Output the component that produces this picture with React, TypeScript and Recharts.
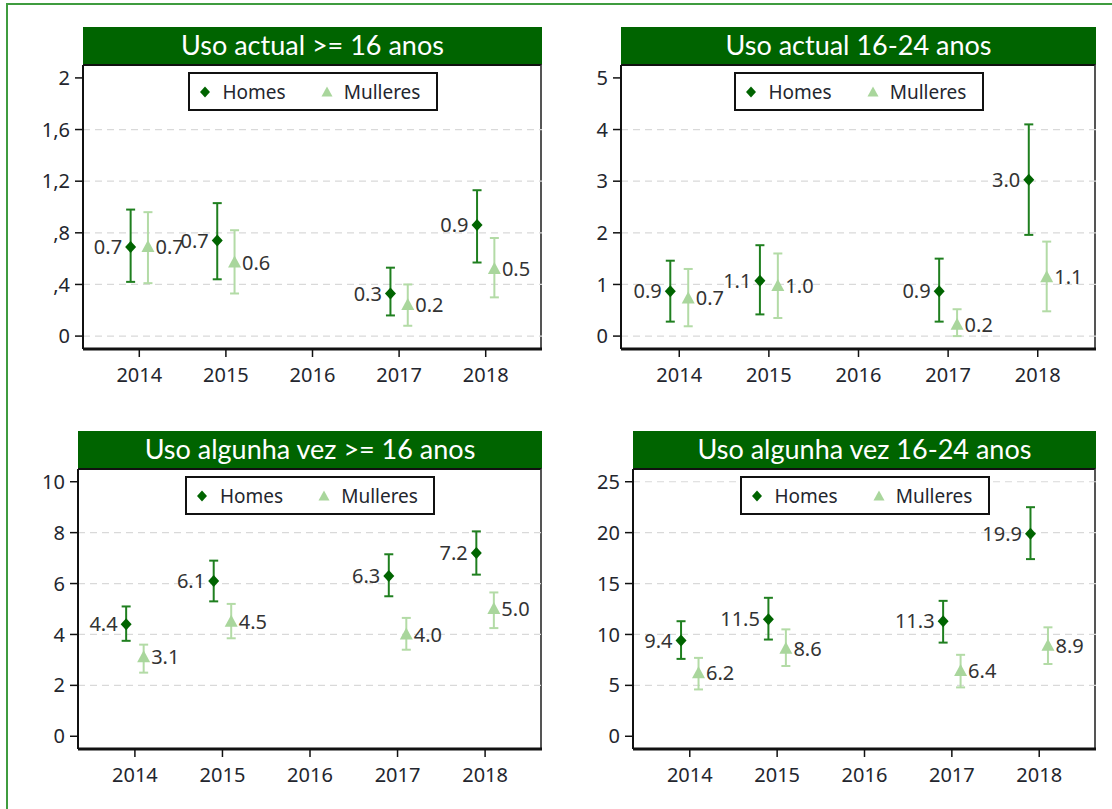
import React from "react";
import {
  ScatterChart,
  Scatter,
  XAxis,
  YAxis,
  CartesianGrid,
  ErrorBar,
  LabelList,
} from "recharts";

// ---------- data ----------
const years = [2014, 2015, 2017, 2018];
const xTicks = [2014, 2015, 2016, 2017, 2018];

// Panel 1: Uso actual >= 16 anos
const p1Title = "Uso actual >= 16 anos";
const p1Ticks = [0, 0.4, 0.8, 1.2, 1.6, 2];
const p1TickLabels = ["0", ",4", ",8", "1,2", "1,6", "2"];
const p1Grid = [0, 0.4, 0.8, 1.2, 1.6];
const p1HomesVal = [0.69, 0.74, 0.33, 0.86];
const p1HomesLo = [0.42, 0.44, 0.16, 0.57];
const p1HomesHi = [0.98, 1.03, 0.53, 1.13];
const p1MullVal = [0.69, 0.57, 0.24, 0.52];
const p1MullLo = [0.41, 0.33, 0.08, 0.3];
const p1MullHi = [0.96, 0.82, 0.4, 0.76];

// Panel 2: Uso actual 16-24 anos
const p2Title = "Uso actual 16-24 anos";
const p2Ticks = [0, 1, 2, 3, 4, 5];
const p2TickLabels = ["0", "1", "2", "3", "4", "5"];
const p2Grid = [0, 1, 2, 3, 4];
const p2HomesVal = [0.87, 1.07, 0.87, 3.03];
const p2HomesLo = [0.28, 0.42, 0.28, 1.96];
const p2HomesHi = [1.46, 1.76, 1.5, 4.1];
const p2MullVal = [0.73, 0.97, 0.22, 1.14];
const p2MullLo = [0.19, 0.35, 0.0, 0.48];
const p2MullHi = [1.3, 1.6, 0.52, 1.83];

// Panel 3: Uso algunha vez >= 16 anos
const p3Title = "Uso algunha vez >= 16 anos";
const p3Ticks = [0, 2, 4, 6, 8, 10];
const p3TickLabels = ["0", "2", "4", "6", "8", "10"];
const p3Grid = [2, 4, 6, 8];
const p3HomesVal = [4.4, 6.1, 6.3, 7.2];
const p3HomesLo = [3.75, 5.3, 5.5, 6.35];
const p3HomesHi = [5.1, 6.9, 7.15, 8.05];
const p3MullVal = [3.1, 4.5, 4.0, 5.0];
const p3MullLo = [2.5, 3.85, 3.4, 4.25];
const p3MullHi = [3.6, 5.2, 4.65, 5.65];

// Panel 4: Uso algunha vez 16-24 anos
const p4Title = "Uso algunha vez 16-24 anos";
const p4Ticks = [0, 5, 10, 15, 20, 25];
const p4TickLabels = ["0", "5", "10", "15", "20", "25"];
const p4Grid = [5, 10, 15, 20, 25];
const p4HomesVal = [9.4, 11.5, 11.3, 19.9];
const p4HomesLo = [7.6, 9.5, 9.2, 17.4];
const p4HomesHi = [11.3, 13.6, 13.3, 22.5];
const p4MullVal = [6.2, 8.6, 6.4, 8.9];
const p4MullLo = [4.6, 6.9, 4.8, 7.1];
const p4MullHi = [7.7, 10.5, 8.0, 10.7];

const seriesNames = ["Homes", "Mulleres"];

// ---------- style ----------
const DARK = "#006400";
const DARK_BAR = "#1f7f1f";
const LIGHT = "#a9d69c";
const LIGHT_BAR = "#b3dba6";
const FONT = "'Noto Sans', sans-serif";
const TITLE_FONT = "Lato, 'Noto Sans', sans-serif";
const TEXT = "#23262e";
const DODGE = 0.1;

function buildRows(vals: number[], lo: number[], hi: number[], shift: number) {
  return years.map((y, i) => ({
    x: y + shift,
    v: vals[i],
    err: [vals[i] - lo[i], hi[i] - vals[i]],
  }));
}

const Diamond = (props: any) => {
  const { cx, cy } = props;
  if (cx == null || cy == null) return null;
  return (
    <path
      d={`M${cx},${cy - 6}L${cx + 5.5},${cy}L${cx},${cy + 6}L${cx - 5.5},${cy}Z`}
      fill={DARK}
    />
  );
};

const Triangle = (props: any) => {
  const { cx, cy } = props;
  if (cx == null || cy == null) return null;
  return (
    <path
      d={`M${cx},${cy - 7}L${cx + 6.5},${cy + 5}L${cx - 6.5},${cy + 5}Z`}
      fill={LIGHT}
    />
  );
};

type PanelProps = {
  title: string;
  ticks: number[];
  tickLabels: string[];
  grid: number[];
  hv: number[];
  hl: number[];
  hh: number[];
  mv: number[];
  ml: number[];
  mh: number[];
  plotLeft: number;
  plotRight: number;
  titleTop: number;
  plotTop: number;
  plotBottom: number;
};

const Y_AXIS_W = 75;
const X_AXIS_H = 50;

function Panel(p: PanelProps) {
  const plotW = p.plotRight - p.plotLeft;
  const plotH = p.plotBottom - p.plotTop;
  const tMin = p.ticks[0];
  const tMax = p.ticks[p.ticks.length - 1];
  const pad = (tMax - tMin) * 0.05;
  const homes = buildRows(p.hv, p.hl, p.hh, -DODGE);
  const mull = buildRows(p.mv, p.ml, p.mh, DODGE);
  const fmt = (v: any) => Number(v).toFixed(1);
  return (
    <>
      <div
        style={{
          position: "absolute",
          left: p.plotLeft,
          top: p.titleTop,
          width: plotW,
          height: p.plotTop - p.titleTop,
          background: DARK,
          color: "#fff",
          fontFamily: TITLE_FONT,
          fontSize: 27,
          lineHeight: `${p.plotTop - p.titleTop - 3}px`,
          textAlign: "center",
          whiteSpace: "nowrap",
        }}
      >
        {p.title}
      </div>
      <div
        style={{
          position: "absolute",
          left: p.plotLeft,
          top: p.plotTop - 1,
          width: plotW,
          height: plotH,
          borderTop: "2px solid #111",
          borderRight: "2px solid #555",
          boxSizing: "border-box",
        }}
      />
      <div
        style={{
          position: "absolute",
          left: p.plotLeft - Y_AXIS_W,
          top: p.plotTop,
        }}
      >
        <ScatterChart
          width={plotW + Y_AXIS_W + 5}
          height={plotH + X_AXIS_H}
          margin={{ top: 0, right: 5, bottom: 0, left: 0 }}
        >
          <CartesianGrid
            horizontal
            vertical={false}
            horizontalValues={p.grid}
            stroke="#d9d9d9"
            strokeDasharray="7 5"
            strokeWidth={1.2}
          />
          <XAxis
            type="number"
            dataKey="x"
            domain={[2013.35, 2018.65]}
            ticks={xTicks}
            allowDataOverflow
            height={X_AXIS_H}
            axisLine={{ stroke: "#111", strokeWidth: 3 }}
            tickLine={{ stroke: "#111", strokeWidth: 1.5 }}
            tickSize={8}
            tickMargin={11}
            tick={{ fill: TEXT, fontSize: 20, fontFamily: FONT }}
            interval={0}
          />
          <YAxis
            type="number"
            dataKey="v"
            domain={[tMin - pad, tMax + pad]}
            ticks={p.ticks}
            allowDataOverflow
            width={Y_AXIS_W}
            axisLine={{ stroke: "#111", strokeWidth: 2 }}
            tickLine={{ stroke: "#111", strokeWidth: 1.5 }}
            tickSize={8}
            tickMargin={5}
            tick={{ fill: TEXT, fontSize: 20, fontFamily: FONT }}
            tickFormatter={(v: any) => {
              const i = p.ticks.indexOf(Number(v));
              return i >= 0 ? p.tickLabels[i] : String(v);
            }}
            interval={0}
          />
          <Scatter
            name={seriesNames[0]}
            data={homes}
            shape={Diamond}
            isAnimationActive={false}
          >
            <ErrorBar
              dataKey="err"
              direction="y"
              width={4.5}
              stroke={DARK_BAR}
              strokeWidth={2}
            />
            <LabelList
              dataKey="v"
              position="left"
              offset={4}
              formatter={fmt}
              fill="#333"
              fontSize={20}
              fontFamily={FONT}
            />
          </Scatter>
          <Scatter
            name={seriesNames[1]}
            data={mull}
            shape={Triangle}
            isAnimationActive={false}
          >
            <ErrorBar
              dataKey="err"
              direction="y"
              width={4.5}
              stroke={LIGHT_BAR}
              strokeWidth={2}
            />
            <LabelList
              dataKey="v"
              position="right"
              offset={3}
              formatter={fmt}
              fill="#333"
              fontSize={20}
              fontFamily={FONT}
            />
          </Scatter>
        </ScatterChart>
      </div>
      <div
        style={{
          position: "absolute",
          left: p.plotLeft + plotW / 2 - 125,
          top: p.plotTop + 7,
          width: 250,
          height: 39,
          border: "2px solid #111",
          boxSizing: "border-box",
          background: "#fff",
          display: "flex",
          alignItems: "center",
          fontFamily: FONT,
          fontSize: 19,
          color: TEXT,
        }}
      >
        <svg width={14} height={14} style={{ marginLeft: 8 }}>
          <path d="M7,1.5L12,7L7,12.5L2,7Z" fill={DARK} />
        </svg>
        <span style={{ marginLeft: 11 }}>{seriesNames[0]}</span>
        <svg width={14} height={14} style={{ marginLeft: 34 }}>
          <path d="M7,1.5L12.5,11.5L1.5,11.5Z" fill={LIGHT} />
        </svg>
        <span style={{ marginLeft: 10 }}>{seriesNames[1]}</span>
      </div>
    </>
  );
}

export default function App() {
  return (
    <div
      style={{
        position: "absolute",
        left: 0,
        top: 0,
        width: 1112,
        height: 809,
        overflow: "hidden",
        background: "#fff",
      }}
    >
      <div
        style={{
          position: "absolute",
          left: 6,
          top: 3,
          width: 1120,
          height: 830,
          borderLeft: "2px solid #3f9c3f",
          borderTop: "2px solid #3f9c3f",
        }}
      />
      <Panel
        title={p1Title}
        ticks={p1Ticks}
        tickLabels={p1TickLabels}
        grid={p1Grid}
        hv={p1HomesVal}
        hl={p1HomesLo}
        hh={p1HomesHi}
        mv={p1MullVal}
        ml={p1MullLo}
        mh={p1MullHi}
        plotLeft={83}
        plotRight={542}
        titleTop={27}
        plotTop={65}
        plotBottom={349}
      />
      <Panel
        title={p2Title}
        ticks={p2Ticks}
        tickLabels={p2TickLabels}
        grid={p2Grid}
        hv={p2HomesVal}
        hl={p2HomesLo}
        hh={p2HomesHi}
        mv={p2MullVal}
        ml={p2MullLo}
        mh={p2MullHi}
        plotLeft={621}
        plotRight={1096}
        titleTop={27}
        plotTop={65}
        plotBottom={349}
      />
      <Panel
        title={p3Title}
        ticks={p3Ticks}
        tickLabels={p3TickLabels}
        grid={p3Grid}
        hv={p3HomesVal}
        hl={p3HomesLo}
        hh={p3HomesHi}
        mv={p3MullVal}
        ml={p3MullLo}
        mh={p3MullHi}
        plotLeft={78}
        plotRight={542}
        titleTop={431}
        plotTop={469}
        plotBottom={749}
      />
      <Panel
        title={p4Title}
        ticks={p4Ticks}
        tickLabels={p4TickLabels}
        grid={p4Grid}
        hv={p4HomesVal}
        hl={p4HomesLo}
        hh={p4HomesHi}
        mv={p4MullVal}
        ml={p4MullLo}
        mh={p4MullHi}
        plotLeft={633}
        plotRight={1096}
        titleTop={431}
        plotTop={469}
        plotBottom={749}
      />
    </div>
  );
}
